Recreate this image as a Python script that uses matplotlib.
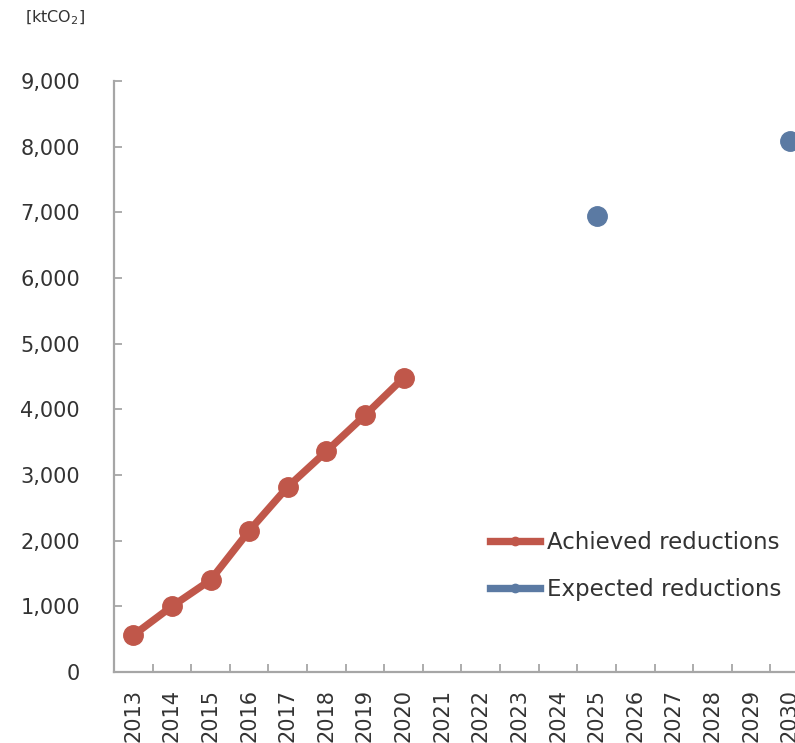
import matplotlib
matplotlib.use("Agg")
import matplotlib.pyplot as plt
import numpy as np

years = [str(y) for y in range(2013, 2031)]
achieved_years = ["2013", "2014", "2015", "2016", "2017", "2018", "2019", "2020"]
achieved = [560, 1000, 1400, 2150, 2820, 3360, 3910, 4480]
expected_years = ["2025", "2030"]
expected = [6940, 8080]

RED = "#C0574A"
BLUE = "#5B7AA3"
GREY = "#A6A6A6"
TXT = "#333333"

plt.rcParams["font.family"] = ["DejaVu Sans"]

fig = plt.figure(figsize=(7.95, 7.43), dpi=100)
ax = fig.add_axes([114 / 795, 71 / 743, 695 / 795, 591 / 743])

xa = [years.index(y) for y in achieved_years]
xe = [years.index(y) for y in expected_years]
ax.plot(xa, achieved, color=RED, lw=5.3, marker="o", ms=14, label="Achieved reductions",
        solid_capstyle="round", clip_on=False)
ax.plot(xe, expected, color=BLUE, lw=0, marker="o", ms=14, label="Expected reductions",
        clip_on=False)

ax.set_xlim(-0.5, len(years) - 0.5)
ax.set_ylim(0, 9000)
ax.set_yticks(np.arange(0, 9001, 1000))
ax.set_yticklabels([f"{v:,}" for v in range(0, 9001, 1000)])

# tick marks between categories, labels on categories
ax.set_xticks(np.arange(0.5, len(years) - 0.5, 1))
ax.set_xticklabels([])
ax.set_xticks(np.arange(len(years)), minor=True)
ax.set_xticklabels(years, minor=True, rotation=90, va="top", ha="center")
ax.tick_params(axis="x", which="major", direction="in", length=6, width=1.3, color=GREY)
ax.tick_params(axis="x", which="minor", length=0, pad=12, labelsize=15, labelcolor=TXT)
ax.tick_params(axis="y", direction="in", length=6, width=1.3, color=GREY,
               pad=24.5, labelsize=15, labelcolor=TXT)

for s in ["top", "right"]:
    ax.spines[s].set_visible(False)
for s in ["left", "bottom"]:
    ax.spines[s].set_color(GREY)
    ax.spines[s].set_linewidth(1.6)

fig.text(25 / 795, 1 - 18 / 743, "[ktCO$_2$]", fontsize=11.5, color=TXT, va="center", ha="left")

h = [plt.Line2D([], [], color=RED, lw=5.3, marker="o", ms=6),
     plt.Line2D([], [], color=BLUE, lw=5.3, marker="o", ms=6)]
fig.legend(h, ["Achieved reductions", "Expected reductions"], loc="upper left",
           bbox_to_anchor=(490 / 795, 1 - 531 / 743), frameon=False, fontsize=16.5,
           borderpad=0, borderaxespad=0, handlelength=2.2, handletextpad=0.3,
           labelspacing=1.05, labelcolor=TXT)

fig.savefig("out.png", dpi=100)
